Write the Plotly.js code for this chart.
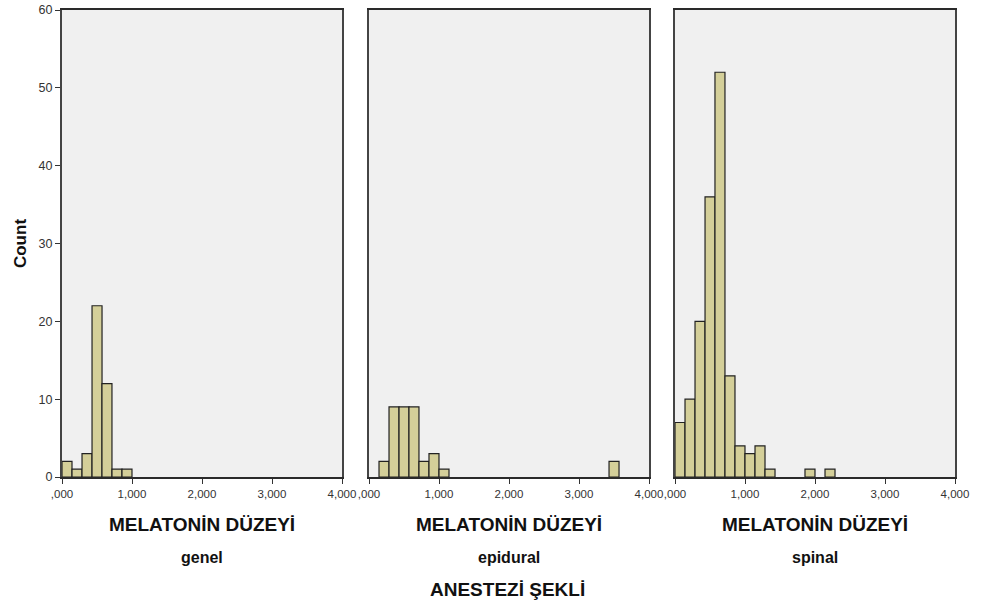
<!DOCTYPE html>
<html>
<head>
<meta charset="utf-8">
<script src="https://cdn.plot.ly/plotly-3.0.1.min.js"></script>
<style>html,body{margin:0;padding:0;background:#fff;}#chart{width:987px;height:605px;}</style>
</head>
<body>
<div id="chart"></div>
<script>
// Bin lower edges (MELATONİN DÜZEYİ), bin width = 1/7
const binWidth = 0.142857;
const binEdges = [0.000, 0.143, 0.286, 0.429, 0.571, 0.714, 0.857, 1.000, 1.143, 1.286,
                  1.429, 1.571, 1.714, 1.857, 2.000, 2.143, 2.286, 2.429, 2.571, 2.714,
                  2.857, 3.000, 3.143, 3.286, 3.429, 3.571, 3.714, 3.857];
const groups = ['genel', 'epidural', 'spinal'];
const countsGenel    = [2, 1, 3, 22, 12, 1, 1, 0, 0, 0, 0, 0, 0, 0, 0, 0, 0, 0, 0, 0, 0, 0, 0, 0, 0, 0, 0, 0];
const countsEpidural = [0, 2, 9, 9, 9, 2, 3, 1, 0, 0, 0, 0, 0, 0, 0, 0, 0, 0, 0, 0, 0, 0, 0, 0, 2, 0, 0, 0];
const countsSpinal   = [7, 10, 20, 36, 52, 13, 4, 3, 4, 1, 0, 0, 0, 1, 0, 1, 0, 0, 0, 0, 0, 0, 0, 0, 0, 0, 0, 0];
const xTickVals = [0, 1, 2, 3, 4];
const xTickText = [',000', '1,000', '2,000', '3,000', '4,000'];
const yTickVals = [0, 10, 20, 30, 40, 50, 60];
const xTitle = 'MELATONİN DÜZEYİ';
const yTitle = 'Count';
const groupTitle = 'ANESTEZİ ŞEKLİ';

const allCounts = [countsGenel, countsEpidural, countsSpinal];
const FONT = '"Liberation Sans Narrow", "Arial Narrow", "Liberation Sans", Arial, sans-serif';

const traces = allCounts.map((c, i) => {
  const xs = [], ys = [];
  c.forEach((v, j) => { if (v > 0) { xs.push(binEdges[j]); ys.push(v); } });
  return {
    type: 'bar', x: xs, y: ys, offset: 0, width: binWidth,
    xaxis: i === 0 ? 'x' : 'x' + (i + 1), yaxis: i === 0 ? 'y' : 'y' + (i + 1),
    marker: {color: '#D4CF99', line: {color: '#222', width: 1.2}},
    hoverinfo: 'x+y', showlegend: false
  };
});

const W = 987, H = 605;
const xDom = [[62, 342], [369, 649], [675, 955]].map(d => [d[0] / W, d[1] / W]);
const yDom = [1 - 477 / H, 1 - 10 / H];

const layout = {
  width: W, height: H,
  margin: {l: 0, r: 0, t: 0, b: 0},
  paper_bgcolor: '#ffffff', plot_bgcolor: '#F0F0F0',
  font: {family: FONT, color: '#222', size: 12},
  bargap: 0,
  annotations: []
};

for (let i = 0; i < 3; i++) {
  const sx = i === 0 ? '' : String(i + 1);
  layout['xaxis' + sx] = {
    domain: xDom[i], range: [0, 4], anchor: 'y' + sx,
    tickvals: xTickVals, ticktext: xTickText,
    ticks: 'outside', ticklen: 5, tickcolor: '#333', tickwidth: 1,
    tickfont: {family: FONT, size: 11.5, color: '#333'},
    showline: true, linecolor: '#2a2a2a', linewidth: 2, mirror: true,
    showgrid: false, zeroline: false, fixedrange: true
  };
  layout['yaxis' + sx] = {
    domain: yDom, range: [0, 60], anchor: 'x' + sx,
    tickvals: yTickVals, showticklabels: i === 0,
    ticks: i === 0 ? 'outside' : '', ticklen: 5, tickcolor: '#333',
    tickfont: {family: FONT, size: 12.5, color: '#333'},
    showline: true, linecolor: '#444', linewidth: 2, mirror: true,
    showgrid: false, zeroline: false, fixedrange: true
  };
  if (i === 0) {
    layout.yaxis.title = {text: yTitle, font: {family: '"Liberation Sans", Arial, sans-serif', size: 17, color: '#111', weight: 'bold'}, standoff: 8};
  }
  const cx = (xDom[i][0] + xDom[i][1]) / 2;
  layout.annotations.push({
    xref: 'paper', yref: 'paper', x: cx, y: 1 - 524 / H, xanchor: 'center', yanchor: 'middle',
    text: '<b>' + xTitle + '</b>', showarrow: false,
    font: {family: FONT, size: 19, color: '#111'}
  });
  layout.annotations.push({
    xref: 'paper', yref: 'paper', x: cx, y: 1 - 557 / H, xanchor: 'center', yanchor: 'middle',
    text: '<b>' + groups[i] + '</b>', showarrow: false,
    font: {family: FONT, size: 16, color: '#111'}
  });
}
layout.annotations.push({
  xref: 'paper', yref: 'paper', x: 507 / W, y: 1 - 589 / H, xanchor: 'center', yanchor: 'middle',
  text: '<b>' + groupTitle + '</b>', showarrow: false,
  font: {family: FONT, size: 19, color: '#111'}
});

Plotly.newPlot('chart', traces, layout, {displayModeBar: false, staticPlot: true});
</script>
</body>
</html>
